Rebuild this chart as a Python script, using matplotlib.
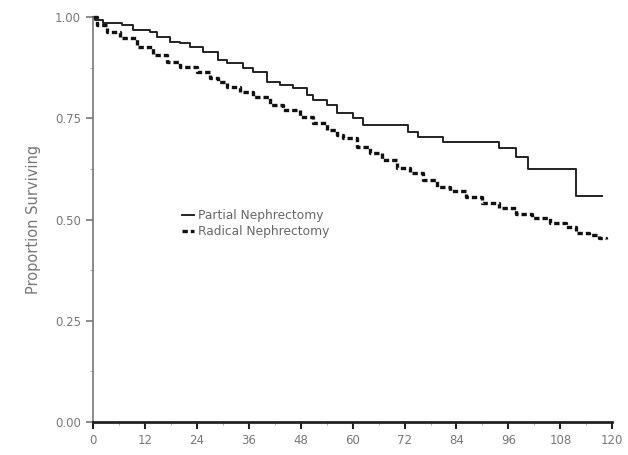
import numpy as np
import matplotlib.pyplot as plt
from matplotlib.ticker import MultipleLocator

# Kaplan-Meier style survival curves (months, proportion)
partial_months = [0, 0.5, 2.3, 6.7, 9.2, 13.2, 14.8, 17.8, 20.1, 22.4, 25.4, 28.8,
                  30.9, 34.6, 36.9, 40.2, 43.2, 46.2, 49.4, 50.8, 54.0, 56.5, 60.0,
                  62.3, 72.7, 75.0, 80.8, 93.9, 97.8, 100.6, 111.7, 117.7]
partial_surv = [1.0, 0.993, 0.985, 0.980, 0.968, 0.963, 0.951, 0.938, 0.936, 0.926,
                0.914, 0.894, 0.886, 0.874, 0.864, 0.840, 0.832, 0.825, 0.807, 0.795,
                0.783, 0.763, 0.751, 0.733, 0.716, 0.704, 0.691, 0.677, 0.654, 0.625,
                0.558, 0.558]

radical_months = [0, 0.9, 3.2, 6.2, 10.2, 13.8, 17.1, 20.1, 24.0, 27.0, 28.8, 30.9,
                  33.9, 36.9, 40.8, 43.8, 47.8, 50.8, 54.0, 56.5, 57.7, 60.9, 63.9,
                  66.9, 70.2, 73.2, 76.2, 79.4, 82.4, 86.3, 90.0, 93.9, 97.8, 101.5,
                  105.5, 109.4, 111.7, 114.7, 117.0, 118.6]
radical_surv = [1.0, 0.980, 0.963, 0.948, 0.926, 0.906, 0.889, 0.877, 0.864, 0.849,
                0.840, 0.827, 0.815, 0.802, 0.783, 0.770, 0.753, 0.738, 0.721, 0.709,
                0.701, 0.679, 0.664, 0.647, 0.627, 0.615, 0.598, 0.580, 0.570, 0.556,
                0.541, 0.528, 0.514, 0.504, 0.491, 0.481, 0.467, 0.462, 0.454, 0.452]

x_ticks = [0, 12, 24, 36, 48, 60, 72, 84, 96, 108, 120]
y_ticks = [0.0, 0.25, 0.50, 0.75, 1.00]
y_tick_labels = ['0.00', '0.25', '0.50', '0.75', '1.00']

fig = plt.figure(figsize=(6.28, 4.55), dpi=100)
ax = fig.add_axes([0.148, 0.0725, 0.827, 0.89])

ax.plot(partial_months, partial_surv, drawstyle='steps-post', color='#222222',
        linewidth=1.4, label='Partial Nephrectomy', clip_on=False)
ax.plot(radical_months, radical_surv, drawstyle='steps-post', color='#111111',
        linewidth=2.4, linestyle=(0, (1.6, 0.9)), label='Radical Nephrectomy',
        clip_on=False)

ax.set_xlim(0, 120)
ax.set_ylim(0, 1.0)
ax.set_xticks(x_ticks)
ax.set_xticklabels([str(t) for t in x_ticks])
ax.set_yticks(y_ticks)
ax.set_yticklabels(y_tick_labels)
ax.xaxis.set_minor_locator(MultipleLocator(6))
ax.yaxis.set_minor_locator(MultipleLocator(0.125))

for side in ['top', 'right']:
    ax.spines[side].set_visible(False)
ax.spines['left'].set_color('#777777')
ax.spines['left'].set_linewidth(1.2)
ax.spines['bottom'].set_color('#222222')
ax.spines['bottom'].set_linewidth(2.0)

ax.tick_params(axis='both', which='major', direction='out', length=5,
               labelsize=8.5, labelcolor='#777777')
ax.tick_params(axis='x', which='major', color='#222222', width=1.5)
ax.tick_params(axis='y', which='major', color='#777777', width=1.2)
ax.tick_params(axis='both', which='minor', direction='out', length=2.5,
               color='#999999')

ax.set_ylabel('Proportion Surviving', fontsize=10.5, color='#777777', labelpad=10)

ax.legend(loc='center left', bbox_to_anchor=(0.15, 0.49), frameon=False,
          fontsize=8.8, handlelength=1.0, handletextpad=0.3, labelspacing=0.2,
          labelcolor='#666666')

plt.savefig('out.png', dpi=100)
